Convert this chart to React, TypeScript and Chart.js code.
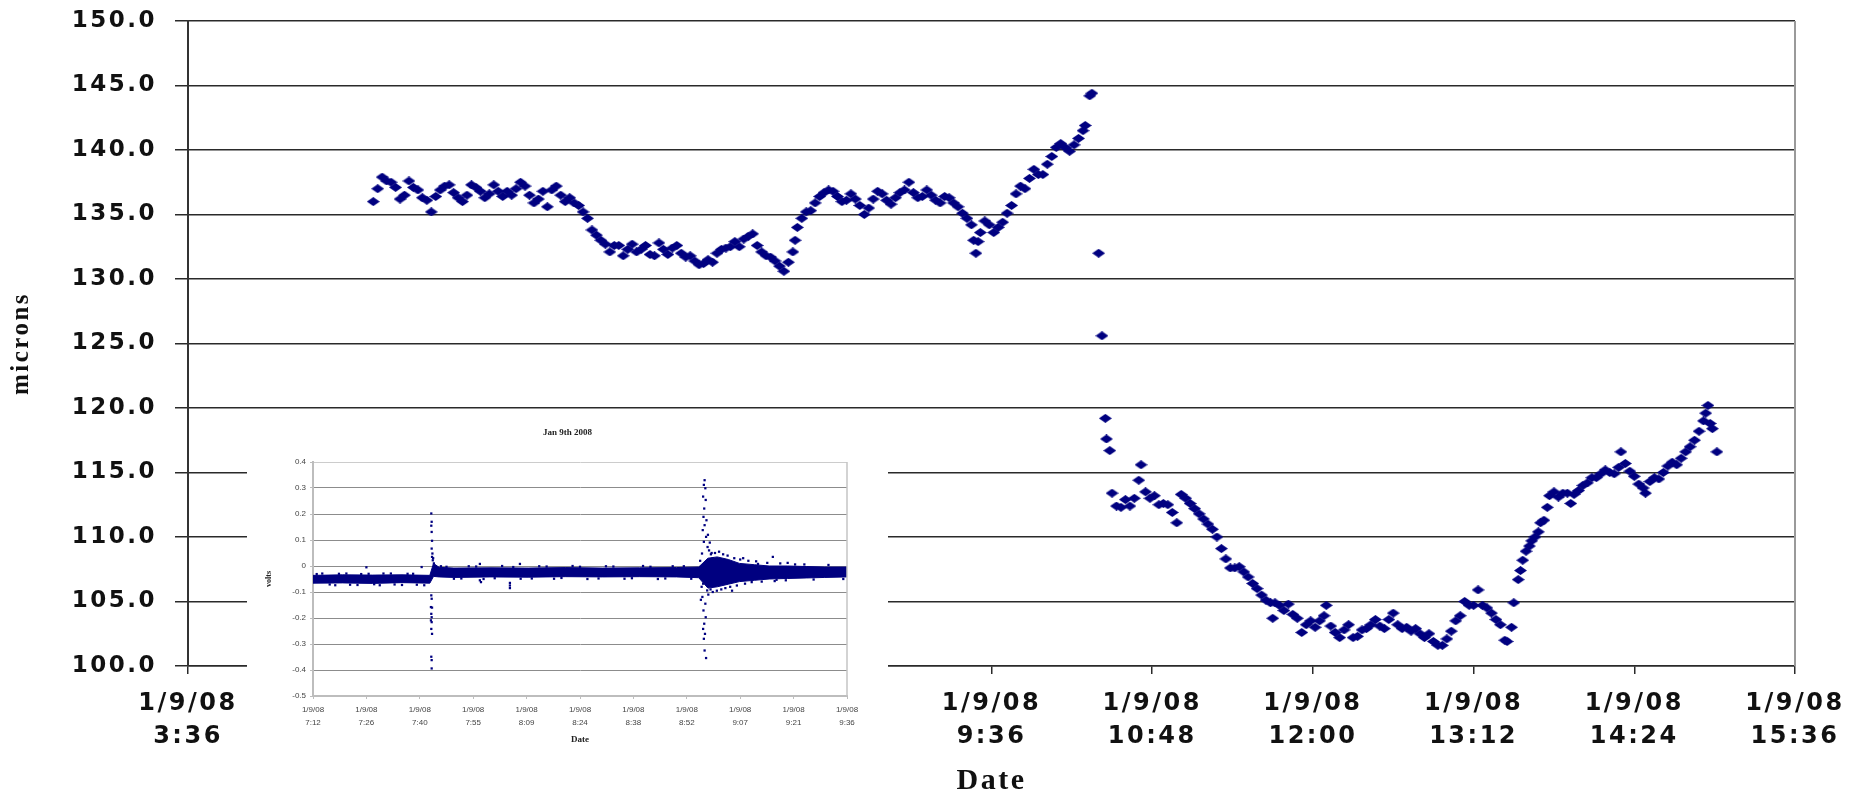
import React, { useEffect, useRef } from "react";
import { Chart, registerables } from "chart.js";

Chart.register(...registerables);

// ---------- Main chart data (x = minutes since midnight on 1/9/08) ----------
const MAIN_X_MIN = 216; // 3:36
const MAIN_X_MAX = 936; // 15:36
const MAIN_X_STEP = 72;
const MAIN_Y_MIN = 100;
const MAIN_Y_MAX = 150;
const MAIN_Y_STEP = 5;

const mainTimes = [
  299, 301, 303, 305, 307, 309, 311, 313, 315, 317,
  319, 321, 323, 325, 327, 329, 331, 333, 335, 337,
  339, 341, 343, 345, 347, 349, 351, 353, 355, 357,
  359, 361, 363, 365, 367, 369, 371, 373, 375, 377,
  379, 381, 383, 385, 387, 389, 391, 393, 395, 397,
  399, 401, 403, 405, 407, 409, 411, 413, 415, 417,
  419, 421, 423, 425, 427, 429, 431, 433, 435, 437,
  439, 441, 443, 445, 447, 449, 451, 453, 455, 457,
  459, 461, 463, 465, 467, 469, 471, 473, 475, 477,
  479, 481, 483, 485, 487, 488, 489, 491, 493, 495,
  497, 499, 501, 503, 505, 507, 509, 511, 513, 515,
  517, 519, 521, 523, 525, 527, 529, 531, 533, 535,
  537, 539, 541, 543, 545, 547, 549, 551, 553, 555,
  557, 559, 561, 563, 565, 567, 568, 569, 570, 571,
  573, 575, 577, 579, 581, 583, 585, 587, 589, 591,
  593, 595, 597, 599, 601, 603, 605, 607, 609, 611,
  613, 615, 617, 618, 620, 621, 624, 625.5, 627, 627.5,
  629, 630,
  632, 634, 636, 638, 640, 642, 643, 645, 647, 649,
  651, 653, 655, 657, 659, 661, 663, 665, 667, 669,
  671, 673, 675, 677, 679, 681, 683, 685, 687, 689,
  691, 693, 695, 697, 699, 701, 702, 703, 705, 707,
  709, 711, 713, 715, 717, 719, 721, 723, 725, 726,
  728, 730, 732, 734, 736, 738, 740, 742, 744, 746,
  748, 750, 752, 754, 756, 758, 760, 762, 764, 766,
  768, 770, 772, 774, 776, 778, 780, 782, 784, 786,
  788, 790, 792, 794, 796, 798, 800, 802, 804, 806,
  807, 809, 810, 812, 813, 814, 815.5, 817, 818, 819.5,
  821, 822, 823.5, 825, 826, 828, 830, 832, 834, 835.5,
  837, 839, 841, 843, 845, 847, 849, 851, 853, 855,
  857, 858, 860, 862, 864, 866, 868, 869, 871, 873,
  875, 877, 879, 881, 883, 885, 887, 889, 891, 893,
  895, 896, 897, 898, 899, 901,
];

const mainMicrons = [
  136.0, 137.0, 137.9, 137.6, 137.5, 137.1, 136.2, 136.5, 137.6, 137.1,
  136.9, 136.3, 136.1, 135.2, 136.4, 136.9, 137.2, 137.3, 136.7, 136.3,
  136.0, 136.5, 137.3, 137.1, 136.8, 136.3, 136.6, 137.3, 136.8, 136.4,
  136.8, 136.5, 137.0, 137.5, 137.2, 136.5, 135.9, 136.2, 136.8, 135.6,
  136.9, 137.2, 136.5, 136.0, 136.3, 135.9, 135.7, 135.2, 134.7, 133.8,
  133.4, 133.0, 132.7, 132.1, 132.6, 132.6, 131.8, 132.3, 132.7, 132.1,
  132.3, 132.6, 131.9, 131.8, 132.8, 132.3, 131.9, 132.4, 132.6, 132.0,
  131.7, 131.8, 131.4, 131.1, 131.2, 131.5, 131.3, 132.0, 132.3, 132.4,
  132.5, 132.9, 132.5, 133.1, 133.3, 133.5, 132.6, 132.1, 131.8, 131.7,
  131.4, 131.0, 130.6, 131.3, 132.1, 133.0, 134.0, 134.7, 135.2, 135.3,
  135.9, 136.4, 136.7, 136.9, 136.8, 136.4, 136.0, 136.1, 136.6, 136.2,
  135.7, 135.0, 135.5, 136.2, 136.8, 136.6, 136.1, 135.8, 136.3, 136.7,
  136.9, 137.5, 136.7, 136.3, 136.4, 136.9, 136.5, 136.1, 135.9, 136.4,
  136.3, 135.9, 135.6, 135.1, 134.7, 134.2, 133.0, 132.0, 132.9, 133.6,
  134.5, 134.2, 133.6, 134.0, 134.4, 135.1, 135.7, 136.6, 137.2, 137.0,
  137.8, 138.5, 138.1, 138.1, 138.9, 139.5, 140.2, 140.5, 140.2, 139.9,
  140.4, 140.9, 141.5, 141.9, 144.2, 144.4, 132.0, 125.6, 119.2, 117.6,
  116.7, 113.4,
  112.4, 112.3, 112.9, 112.4, 113.0, 114.4, 115.6, 113.5, 113.0, 113.2,
  112.5, 112.6, 112.5, 111.9, 111.1, 113.3, 113.0, 112.6, 112.2, 111.8,
  111.4, 111.0, 110.6, 110.0, 109.1, 108.3, 107.6, 107.6, 107.7, 107.3,
  106.9, 106.4, 106.0, 105.5, 105.1, 104.9, 103.7, 104.9, 104.7, 104.3,
  104.8, 104.0, 103.7, 102.6, 103.2, 103.5, 103.0, 103.5, 103.9, 104.7,
  103.1, 102.6, 102.2, 102.8, 103.2, 102.2, 102.3, 102.8, 102.9, 103.2,
  103.6, 103.1, 102.9, 103.6, 104.1, 103.2, 102.9, 103.0, 102.7, 102.9,
  102.5, 102.2, 102.5, 101.9, 101.6, 101.6, 102.1, 102.7, 103.5, 103.9,
  105.0, 104.7, 104.7, 105.9, 104.7, 104.5, 104.1, 103.6, 103.2, 102.0,
  101.9, 103.0, 104.9, 106.7, 107.4, 108.2, 108.9, 109.3, 109.7, 110.0,
  110.4, 111.1, 111.3, 112.3, 113.2, 113.5, 113.1, 113.4, 113.4, 112.6,
  113.3, 113.6, 114.0, 114.2, 114.6, 114.6, 114.9, 115.2, 115.0, 114.9,
  115.4, 116.6, 115.7, 115.1, 114.7, 114.1, 113.8, 113.4, 114.3, 114.6,
  114.5, 115.0, 115.5, 115.8, 115.6, 116.1, 116.6, 117.0, 117.5, 118.2,
  119.0, 119.6, 120.2, 118.8, 118.4, 116.6,
];

// ---------- Inset chart data (Jan 9th 2008, volts) ----------
const INSET_X_MIN = 432; // 7:12
const INSET_X_MAX = 576; // 9:36
const INSET_X_STEP = 14.4;
const INSET_Y_MIN = -0.5;
const INSET_Y_MAX = 0.4;
const INSET_Y_STEP = 0.1;

// dense signal band: upper / lower envelope
const insetBandTimes = [
  432, 440, 448, 456, 463.5, 464.5, 466, 470, 480, 490, 500, 510, 520, 530, 536,
  538.5, 541, 544, 547, 551, 555, 560, 565, 570, 576,
];
const insetBandUpper = [
  -0.036, -0.034, -0.035, -0.034, -0.036, 0.01, -0.005, -0.008, -0.007, -0.008, -0.006,
  -0.008, -0.007, -0.006, -0.004, 0.03, 0.035, 0.025, 0.01, 0.005, 0.0, 0.0, -0.002, -0.004,
  -0.004,
];
const insetBandLower = [
  -0.066, -0.065, -0.067, -0.064, -0.066, -0.04, -0.042, -0.044, -0.042, -0.043, -0.041,
  -0.042, -0.041, -0.042, -0.045, -0.085, -0.08, -0.07, -0.06, -0.055, -0.05, -0.048,
  -0.046, -0.044, -0.042,
];

// individual readings: spikes, outliers and band edge noise
const insetPointTimes = [
  // spike at ~7:44
  463.9, 464.0, 463.9, 464.0, 464.1, 464.0, 464.2, 464.1, 464.3, 464.4, 464.6,
  463.9, 464.0, 463.8, 464.1, 463.9, 464.0, 463.8, 464.0, 463.9, 464.1, 463.9, 464.0, 464.0,
  // spike at ~8:57
  537.6, 537.4, 537.8, 537.2, 537.9, 537.5, 537.3, 538.1, 537.6, 537.1, 538.0, 537.4, 538.4,
  536.9, 538.6, 537.0, 538.8, 537.2, 538.3, 537.0, 537.8, 537.3, 537.9, 537.5, 537.2, 537.7,
  537.4, 537.6, 538.0, 538.5, 539.0, 538.8, 539.5, 536.8, 536.6, 538.6, 539.2, 536.4, 539.8,
  // outliers
  446.4, 461.3, 477.0, 477.3, 485.1, 485.1, 485.1, 487.8, 477.0, 556.0, 560.0, 564.5, 548.0,
  545.0,
  // band edge noise
  433, 436.5, 439, 442, 445, 448.5, 451, 454, 457.5, 460,
  434.5, 438, 441, 444, 447, 450, 453, 456, 459, 462,
  468, 472, 476, 481, 486, 491, 495, 499, 504, 509, 513, 518, 523, 527, 532,
  466.5, 470, 474, 478, 483, 488, 493, 497, 502, 506, 511, 516, 521, 525, 529, 534,
  552, 557, 562, 567, 571, 575,
  // scatter after second spike
  539.3, 539.8, 540.4, 540.9, 541.5, 542.1, 542.6, 543.2, 543.8, 544.5, 545.6, 546.3,
  547.2, 548.5, 549.4, 550.3, 551.5, 553, 554.5, 556.5, 558, 559.5,
];
const insetPointVolts = [
  0.202, 0.17, 0.155, 0.131, 0.097, 0.067, 0.048, 0.035, 0.022, 0.03, 0.01,
  -0.113, -0.126, -0.158, -0.16, -0.184, -0.197, -0.209, -0.216, -0.242, -0.261, -0.349,
  -0.362, -0.394,
  0.33, 0.312, 0.299, 0.267, 0.254, 0.221, 0.189, 0.176, 0.157, 0.138, 0.112, 0.093, 0.073,
  0.048, 0.022, -0.004, -0.042, -0.068, -0.094, -0.119, -0.145, -0.171, -0.197, -0.222,
  -0.242, -0.261, -0.28, -0.325, -0.354, 0.12, 0.09, 0.06, 0.05, -0.08, -0.13, -0.11, -0.09,
  0.02, 0.03,
  -0.005, -0.004, -0.055, -0.062, -0.065, -0.075, -0.085, 0.008, 0.008, 0.035, 0.012, 0.006,
  0.03, -0.095,
  -0.031, -0.071, -0.03, -0.072, -0.031, -0.07, -0.029, -0.071, -0.03, -0.072,
  -0.029, -0.074, -0.029, -0.073, -0.03, -0.074, -0.029, -0.073, -0.03, -0.074,
  -0.003, -0.048, -0.002, -0.047, -0.004, -0.048, -0.002, -0.046, -0.003, -0.048, -0.002,
  -0.047, -0.003, -0.048, -0.001,
  -0.001, -0.049, -0.001, -0.05, 0.0, -0.049, -0.001, -0.049, 0.0, -0.05, -0.001, -0.049,
  0.0, -0.05, -0.001, -0.049,
  0.008, -0.053, 0.006, -0.052, 0.004, -0.05,
  0.045, -0.1, 0.05, -0.095, 0.055, -0.09, 0.045, -0.085, 0.04, -0.08, 0.03, -0.075,
  0.025, -0.068, 0.02, -0.062, 0.018, -0.06, 0.012, -0.058, 0.01, -0.055,
];

const NAVY = "#000080";

const fmtTime = (v: number) => {
  const h = Math.floor(v / 60 + 1e-9);
  const m = Math.floor(v - h * 60 + 1e-6);
  return `${h}:${String(m).padStart(2, "0")}`;
};

const spacingPlugin = (sp: string) => ({
  id: "letterSpacing",
  beforeLayout(chart: any) {
    chart.ctx.letterSpacing = sp;
  },
  beforeDraw(chart: any) {
    chart.ctx.letterSpacing = sp;
  },
});

const rightBorder = (color: string, width: number) => ({
  id: "rightBorder",
  afterDraw(chart: any) {
    const { ctx, chartArea: a } = chart;
    ctx.save();
    ctx.strokeStyle = color;
    ctx.lineWidth = width;
    ctx.beginPath();
    ctx.moveTo(a.right, a.top);
    ctx.lineTo(a.right, a.bottom);
    ctx.stroke();
    ctx.restore();
  },
});

export default function App() {
  const mainRef = useRef<HTMLCanvasElement>(null);
  const insetRef = useRef<HTMLCanvasElement>(null);

  useEffect(() => {
    document.body.style.margin = "0";

    const diamond = document.createElement("canvas");
    diamond.width = 13;
    diamond.height = 9;
    const dctx = diamond.getContext("2d")!;
    dctx.fillStyle = NAVY;
    dctx.beginPath();
    dctx.moveTo(6.5, 0);
    dctx.lineTo(13, 4.5);
    dctx.lineTo(6.5, 9);
    dctx.lineTo(0, 4.5);
    dctx.closePath();
    dctx.fill();

    const main = new Chart(mainRef.current!, {
      type: "scatter",
      data: {
        datasets: [
          {
            data: mainTimes.map((t, i) => ({ x: t, y: mainMicrons[i] })),
            pointStyle: diamond as any,
            pointRadius: 6,
            backgroundColor: NAVY,
            borderColor: NAVY,
          },
        ],
      },
      options: {
        responsive: false,
        animation: false,
        layout: { padding: { top: 21, right: 59, left: 0, bottom: 0 } },
        plugins: { legend: { display: false }, tooltip: { enabled: false } },
        scales: {
          x: {
            type: "linear",
            min: MAIN_X_MIN,
            max: MAIN_X_MAX,
            afterFit: (s: any) => {
              s.height = 133;
              s.paddingLeft = 0;
              s.paddingRight = 0;
            },
            ticks: {
              stepSize: MAIN_X_STEP,
              autoSkip: false,
              maxRotation: 0,
              padding: 13,
              color: "#111",
              font: { family: "DejaVu Sans", size: 24, weight: "bold", lineHeight: 1.375 },
              callback: (v: any) => ["1/9/08", fmtTime(Number(v))],
            },
            grid: {
              drawOnChartArea: false,
              drawTicks: true,
              tickLength: 8,
              color: "#2a2a2a",
              lineWidth: 1.5,
            },
            border: { display: true, color: "#2a2a2a", width: 1.5 },
            title: {
              display: true,
              text: "Date",
              color: "#111",
              font: { family: "Liberation Serif", size: 30, weight: "bold" },
              padding: { top: 0, bottom: 0 },
            },
          },
          y: {
            min: MAIN_Y_MIN,
            max: MAIN_Y_MAX,
            afterFit: (s: any) => {
              s.width = 188;
              s.paddingTop = 0;
              s.paddingBottom = 0;
            },
            ticks: {
              stepSize: MAIN_Y_STEP,
              padding: 18,
              color: "#111",
              font: { family: "DejaVu Sans", size: 23, weight: "bold" },
              callback: (v: any) => Number(v).toFixed(1),
            },
            grid: {
              color: "#2a2a2a",
              lineWidth: 1.5,
              tickLength: 13,
              drawTicks: true,
            },
            border: { display: true, color: "#333", width: 2 },
            title: {
              display: true,
              text: "microns",
              color: "#111",
              font: { family: "Liberation Serif", size: 25, weight: "bold" },
              padding: { top: 7, bottom: 0 },
            },
          },
        },
      },
      plugins: [spacingPlugin("2.5px"), rightBorder("#9a9a9a", 2)],
    } as any);

    const inset = new Chart(insetRef.current!, {
      type: "scatter",
      data: {
        datasets: [
          {
            type: "line",
            data: insetBandTimes.map((t, i) => ({ x: t, y: insetBandUpper[i] })),
            borderColor: NAVY,
            backgroundColor: NAVY,
            borderWidth: 1,
            pointRadius: 0,
            fill: "+1",
            tension: 0,
          },
          {
            type: "line",
            data: insetBandTimes.map((t, i) => ({ x: t, y: insetBandLower[i] })),
            borderColor: NAVY,
            backgroundColor: NAVY,
            borderWidth: 1,
            pointRadius: 0,
            fill: false,
            tension: 0,
          },
          {
            type: "scatter",
            data: insetPointTimes.map((t, i) => ({ x: t, y: insetPointVolts[i] })),
            pointStyle: "rect",
            pointRadius: 1.6,
            backgroundColor: NAVY,
            borderColor: NAVY,
            borderWidth: 0,
          },
        ],
      },
      options: {
        responsive: false,
        animation: false,
        layout: { padding: 0 },
        plugins: {
          legend: { display: false },
          tooltip: { enabled: false },
          title: {
            display: true,
            text: "Jan 9th 2008",
            color: "#222",
            font: { family: "Liberation Serif", size: 9, weight: "bold" },
            padding: { top: 12.6, bottom: 23.6 },
          },
        },
        scales: {
          x: {
            type: "linear",
            min: INSET_X_MIN,
            max: INSET_X_MAX,
            afterFit: (s: any) => {
              s.height = 56;
              s.paddingLeft = 0;
              s.paddingRight = 41;
            },
            ticks: {
              stepSize: INSET_X_STEP,
              autoSkip: false,
              maxRotation: 0,
              padding: 4.6,
              color: "#444",
              font: { family: "Liberation Sans", size: 8, lineHeight: 1.6 },
              callback: (v: any) => ["1/9/08", fmtTime(Number(v))],
            },
            grid: {
              drawOnChartArea: false,
              drawTicks: true,
              tickLength: 3,
              color: "#bdbdbd",
            },
            border: { display: true, color: "#bdbdbd", width: 2 },
            title: {
              display: true,
              text: "Date",
              color: "#222",
              font: { family: "Liberation Serif", size: 9, weight: "bold" },
              padding: { top: 0, bottom: 6.5 },
            },
          },
          y: {
            min: INSET_Y_MIN,
            max: INSET_Y_MAX,
            afterFit: (s: any) => {
              s.width = 66;
              s.paddingTop = 0;
              s.paddingBottom = 0;
            },
            ticks: {
              stepSize: INSET_Y_STEP,
              padding: 4,
              color: "#444",
              font: { family: "Liberation Sans", size: 8 },
              callback: (v: any) => String(Math.round(Number(v) * 10) / 10),
            },
            grid: {
              color: (c: any) =>
                c.tick && Math.abs(c.tick.value - INSET_Y_MAX) < 1e-6 ? "#cccccc" : "#8c8c8c",
              lineWidth: 1,
              tickLength: 3,
              tickColor: "#bdbdbd",
            },
            border: { display: true, color: "#bdbdbd", width: 2 },
            title: {
              display: true,
              text: "volts",
              color: "#222",
              font: { family: "Liberation Serif", size: 8, weight: "bold" },
              padding: { top: 17, bottom: 0 },
            },
          },
        },
      },
      plugins: [rightBorder("#c4c4c4", 1.5)],
    } as any);

    return () => {
      main.destroy();
      inset.destroy();
    };
  }, []);

  return (
    <div
      style={{
        position: "fixed",
        left: 0,
        top: 0,
        width: 1854,
        height: 799,
        background: "#ffffff",
      }}
    >
      <canvas
        ref={mainRef}
        width={1854}
        height={799}
        style={{ position: "absolute", left: 0, top: 0 }}
      />
      <canvas
        ref={insetRef}
        width={641}
        height={337}
        style={{ position: "absolute", left: 247, top: 415, background: "#ffffff" }}
      />
    </div>
  );
}
